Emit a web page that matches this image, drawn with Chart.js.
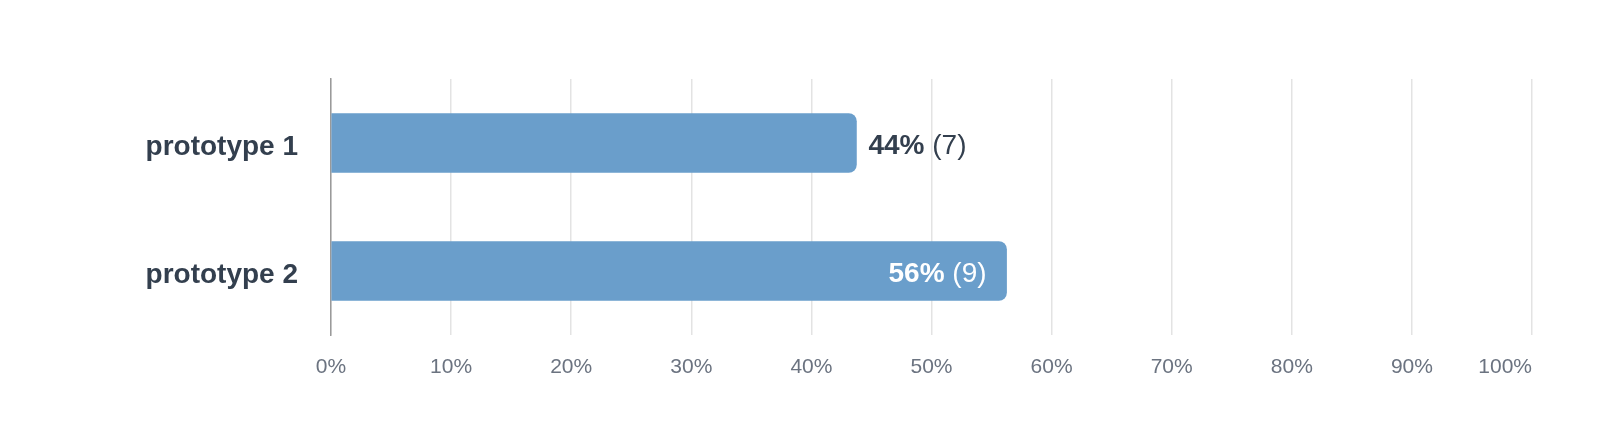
<!DOCTYPE html>
<html>
<head>
<meta charset="utf-8">
<script src="https://cdn.jsdelivr.net/npm/chart.js@4"></script>
<style>
  html, body { margin: 0; padding: 0; background: #fff; }
  #wrap { width: 1615px; height: 448px; }
</style>
</head>
<body>
<div id="wrap"><canvas id="myChart" width="1615" height="448"></canvas></div>
<script>
const categories = ["prototype 1", "prototype 2"];
const shares = [43.75, 56.25];
const counts = [7, 9];
const tickValues = [0, 10, 20, 30, 40, 50, 60, 70, 80, 90, 100];

const colors = {
  bar: "#6a9ecb",
  label: "#333f4e",
  tick: "#6b7380",
  grid: "#e3e3e3",
  axis: "#9a9a9a",
};
const fontFamily = "'Liberation Sans', Arial, Helvetica, sans-serif";

// axis texts and "44% (7)" labels, placed from the chart's own scales
const textLayer = {
  id: "textLayer",
  afterDatasetsDraw(chart) {
    const ctx = chart.ctx;
    const xs = chart.scales.x;
    const ys = chart.scales.y;
    const meta = chart.getDatasetMeta(0);
    const max = Math.max(...shares);
    ctx.save();
    ctx.textBaseline = "middle";

    // category labels
    ctx.fillStyle = colors.label;
    ctx.font = "bold 28px " + fontFamily;
    ctx.textAlign = "right";
    categories.forEach((c, i) => {
      ctx.fillText(c, xs.left - 33, ys.getPixelForValue(i) + 4);
    });

    // x tick labels; last one kept inside the plot
    ctx.fillStyle = colors.tick;
    ctx.font = "21px " + fontFamily;
    tickValues.forEach((v, i) => {
      ctx.textAlign = i === tickValues.length - 1 ? "right" : "center";
      ctx.fillText(v + "%", xs.getPixelForValue(v), xs.top + 32);
    });

    // value labels
    meta.data.forEach((bar, i) => {
      const pct = Math.round(shares[i]) + "%";
      const cnt = " (" + counts[i] + ")";
      ctx.font = "bold 28px " + fontFamily;
      const w1 = ctx.measureText(pct).width;
      ctx.font = "28px " + fontFamily;
      const w2 = ctx.measureText(cnt).width;
      let x;
      if (shares[i] === max) {
        ctx.fillStyle = "#ffffff";
        x = bar.x - 20 - w1 - w2;
      } else {
        ctx.fillStyle = colors.label;
        x = bar.x + 12;
      }
      ctx.textAlign = "left";
      ctx.font = "bold 28px " + fontFamily;
      ctx.fillText(pct, x, bar.y + 3);
      ctx.font = "28px " + fontFamily;
      ctx.fillText(cnt, x + w1, bar.y + 3);
    });
    ctx.restore();
  },
};

const ctx = document.getElementById("myChart").getContext("2d");
new Chart(ctx, {
  type: "bar",
  data: {
    labels: categories,
    datasets: [
      {
        data: shares,
        backgroundColor: colors.bar,
        borderRadius: 8,
        borderSkipped: "start",
        barThickness: 59,
      },
    ],
  },
  options: {
    indexAxis: "y",
    responsive: false,
    animation: false,
    layout: { padding: { top: 79, left: 0, right: 83, bottom: 0 } },
    plugins: {
      legend: { display: false },
      tooltip: { enabled: false },
    },
    scales: {
      x: {
        min: 0,
        max: 100,
        afterBuildTicks(scale) {
          scale.ticks = tickValues.map((v) => ({ value: v }));
        },
        afterFit(scale) {
          scale.height = 113;
        },
        grid: { color: colors.grid, lineWidth: 1.5, drawTicks: false },
        border: { display: false },
        ticks: { display: false },
      },
      y: {
        afterFit(scale) {
          scale.width = 331;
        },
        grid: { display: false, drawTicks: false },
        border: { display: true, color: colors.axis, width: 1.5 },
        ticks: { display: false },
      },
    },
  },
  plugins: [textLayer],
});
</script>
</body>
</html>
